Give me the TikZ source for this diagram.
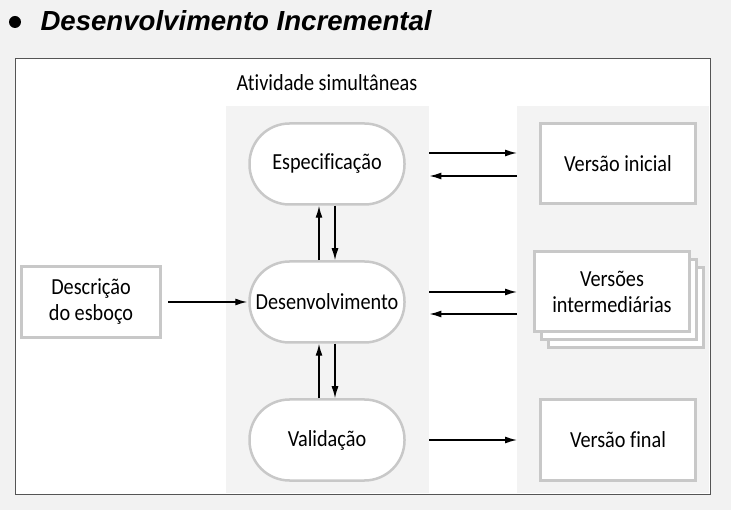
\documentclass[tikz,border=0pt]{standalone}
\usepackage{fontspec}
\setmainfont[Ligatures=NoCommon, FakeStretch=0.88]{Carlito}
\newfontfamily\titlefont{Liberation Sans}
\usetikzlibrary{arrows.meta,shadows}
\definecolor{slidebg}{HTML}{F2F2F2}
\definecolor{panelgray}{HTML}{F3F3F3}
\definecolor{boxline}{HTML}{C8C8C8}
\definecolor{framegray}{HTML}{555555}
\begin{document}
\begin{tikzpicture}[x=1pt, y=-1pt, font=\fontsize{23}{26}\selectfont,
    activity/.style={draw=boxline, line width=2.5pt, fill=white, rounded corners=40pt, minimum width=155pt, minimum height=81pt},
    version/.style={draw=boxline, line width=3pt, fill=white, minimum width=155pt, minimum height=80pt, align=center},
    panel/.style={fill=panelgray, inner sep=0pt, anchor=north west},
    flow/.style={-{Latex[length=12pt,width=7pt]}, line width=1.4pt}]

    % Slide background and title
    \useasboundingbox[fill=slidebg] (0,0) rectangle (731,510);
    \node[circle, fill=black, inner sep=0pt, minimum size=12pt] (bullet) at (15,22) {};
    \node[anchor=west, font=\titlefont\bfseries\itshape\fontsize{27.6}{31}\selectfont] (title) at (37,21) {Desenvolvimento Incremental};

    % Frame and panels
    \node[draw=framegray, line width=1.2pt, fill=white, inner sep=0pt, minimum width=695pt, minimum height=436pt, anchor=north west] (frame) at (15,58) {};
    \node[panel, minimum width=203pt, minimum height=387pt] (midpanel) at (226,106) {};
    \node[panel, minimum width=192pt, minimum height=387pt] (rightpanel) at (517,106) {};
    \node (simul) at (327,83) {Atividade simultâneas};

    % Activities
    \node[activity] (spec) at (327,164) {Especificação};
    \node[activity] (dev) at (327,302) {Desenvolvimento};
    \node[activity] (valid) at (327,440) {Validação};

    % Outline and versions
    \node[version, minimum width=139pt, minimum height=71pt] (desc) at (91,302) {Descrição\\do esboço};
    \node[version] (vinit) at (618,164) {Versão inicial};
    \node[version, double copy shadow={shadow xshift=7pt, shadow yshift=-8pt, draw=boxline, fill=white, line width=3pt}] (vinter) at (612,292) {Versões\\intermediárias};
    \node[version] (vfinal) at (618,440) {Versão final};

    \draw[flow, shorten <=6pt] (desc) -- ([xshift=-1pt]dev.west);
    \draw[flow] ([xshift=-8pt]dev.north) -- ([xshift=-8pt]spec.south);
    \draw[flow] ([xshift=8pt]spec.south) -- ([xshift=8pt]dev.north);
    \draw[flow] ([xshift=-8pt]valid.north) -- ([xshift=-8pt]dev.south);
    \draw[flow] ([xshift=8pt]dev.south) -- ([xshift=8pt]valid.north);

    \draw[flow] ([yshift=11pt]spec.center -| midpanel.east) -- ([yshift=11pt]spec.center -| rightpanel.west);
    \draw[flow] ([yshift=-12pt]spec.center -| rightpanel.west) -- ([yshift=-12pt]spec.center -| midpanel.east);
    \draw[flow] ([yshift=10pt]dev.center -| midpanel.east) -- ([yshift=10pt]dev.center -| rightpanel.west);
    \draw[flow] ([yshift=-12pt]dev.center -| rightpanel.west) -- ([yshift=-12pt]dev.center -| midpanel.east);
    \draw[flow] (valid.center -| midpanel.east) -- (valid.center -| rightpanel.west);

\end{tikzpicture}
\end{document}
